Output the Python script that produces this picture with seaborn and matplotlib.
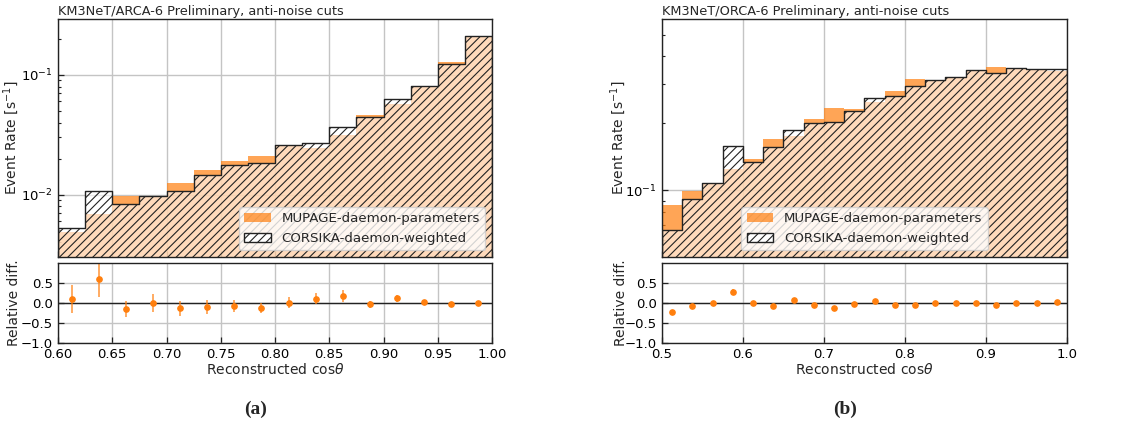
import numpy as np
import matplotlib.pyplot as plt
import seaborn as sns
from matplotlib.patches import Patch
from matplotlib.colors import to_rgba

# ARCA-6: 16 bins of reconstructed cos(theta) between 0.6 and 1.0
arca_edges = np.linspace(0.6, 1.0, 17)
arca_mupage = [0.00489, 0.00681, 0.0098, 0.0097, 0.01242, 0.01616, 0.0191, 0.02113,
               0.0259, 0.0243, 0.0316, 0.0462, 0.0573, 0.0800, 0.1276, 0.211]
arca_corsika = [0.00524, 0.0108, 0.0083, 0.00969, 0.01074, 0.01449, 0.01754, 0.01838,
                0.02596, 0.0270, 0.0369, 0.0447, 0.0635, 0.081, 0.1227, 0.2113]
arca_reldiff = [0.09, 0.61, -0.15, 0.0, -0.13, -0.10, -0.075, -0.12,
                0.01, 0.11, 0.175, -0.03, 0.12, 0.03, -0.02, 0.0]
arca_relerr = [0.35, 0.47, 0.21, 0.23, 0.19, 0.17, 0.15, 0.13,
               0.13, 0.13, 0.14, 0.09, 0.09, 0.05, 0.04, 0.03]

# ORCA-6: 20 bins between 0.5 and 1.0
orca_edges = np.linspace(0.5, 1.0, 21)
orca_mupage = [0.0862, 0.0997, 0.1083, 0.1249, 0.1379, 0.171, 0.175, 0.2098, 0.2333, 0.2309,
               0.249, 0.2784, 0.315, 0.312, 0.321, 0.345, 0.357, 0.352, 0.352, 0.3425]
orca_corsika = [0.0665, 0.0917, 0.1083, 0.159, 0.1347, 0.1574, 0.187, 0.1998, 0.2039, 0.2278,
                0.2588, 0.265, 0.294, 0.3143, 0.322, 0.346, 0.3366, 0.355, 0.35, 0.349]
orca_reldiff = [-0.23, -0.08, 0.0, 0.27, -0.01, -0.07, 0.075, -0.05, -0.12, -0.02,
                0.04, -0.04, -0.06, 0.01, 0.0, 0.0, -0.05, 0.01, 0.0, 0.03]
orca_relerr = [0.05, 0.05, 0.05, 0.08, 0.04, 0.04, 0.04, 0.035, 0.035, 0.03,
               0.03, 0.03, 0.03, 0.025, 0.025, 0.025, 0.025, 0.025, 0.025, 0.025]

sns.set_style("white")
plt.rcParams["font.family"] = ["DejaVu Sans"]
plt.rcParams["hatch.linewidth"] = 0.8

orange = to_rgba("tab:orange", 0.7)
white = (1, 1, 1, 0.6)
gridc = "#c4c4c4"
edgec = "#222222"

fig = plt.figure(figsize=(11.26, 4.26), dpi=100)


def style_ticks(a):
    a.tick_params(which="both", direction="in", left=True, bottom=True,
                  colors=edgec, labelcolor="black", labelsize=9.5)
    a.tick_params(which="major", length=4, width=0.9)
    a.tick_params(which="minor", length=2.5, width=0.8)


def draw_panel(left, width, edges, mupage, corsika, reldiff, relerr,
               title, ylim, legloc, xticks, letter, letter_x):
    centers = 0.5 * (edges[:-1] + edges[1:])
    bins = list(edges)
    ax = fig.add_axes([left, 0.3967, width, 0.5587])
    axr = fig.add_axes([left, 0.1948, width, 0.1878])

    sns.histplot(x=list(centers), weights=mupage, bins=bins, element="step", fill=True,
                 facecolor=orange, edgecolor="none", linewidth=0, ax=ax)
    sns.histplot(x=list(centers), weights=corsika, bins=bins, element="step", fill=True,
                 facecolor=white, edgecolor=edgec, linewidth=1.0, hatch="////", ax=ax)
    ax.set_yscale("log")
    ax.set_ylim(*ylim)
    ax.set_xlim(edges[0], edges[-1])
    ax.set_xticks(xticks)
    style_ticks(ax)
    ax.tick_params(labelbottom=False)
    ax.set_axisbelow(True)
    ax.grid(True, color=gridc, lw=1.0)
    ax.set_xlabel("")
    ax.set_ylabel("Event Rate [s$^{-1}$]", fontsize=10)
    ax.yaxis.set_label_coords(-0.085, 0.5)
    ax.set_title(title, loc="left", fontsize=9.3, pad=3)
    handles = [Patch(facecolor=orange, edgecolor="none", label="MUPAGE-daemon-parameters"),
               Patch(facecolor="white", edgecolor=edgec, hatch="////",
                     label="CORSIKA-daemon-weighted")]
    ax.legend(handles=handles, loc=legloc, fontsize=9.6)

    axr.errorbar(centers, reldiff, yerr=relerr, fmt="o", color="tab:orange", ms=3.8,
                 ecolor=to_rgba("tab:orange", 0.7), elinewidth=1.3, capsize=0)
    axr.axhline(0, color=edgec, lw=1.0, zorder=1)
    axr.set_xlim(edges[0], edges[-1])
    axr.set_ylim(-1, 1)
    axr.set_yticks([-1.0, -0.5, 0.0, 0.5])
    axr.set_xticks(xticks)
    axr.grid(True, color=gridc, lw=1.0)
    axr.set_axisbelow(True)
    style_ticks(axr)
    axr.set_xlabel(r"Reconstructed cos$\theta$", fontsize=10, labelpad=1)
    axr.set_ylabel("Relative diff.", fontsize=10)
    axr.yaxis.set_label_coords(-0.085, 0.5)
    for a in (ax, axr):
        for s in a.spines.values():
            s.set_color(edgec)
            s.set_linewidth(1.0)

    fig.text(letter_x, 0.04, letter, ha="center", va="center", fontsize=14,
             fontweight="bold", family="Liberation Serif")


draw_panel(0.0515, 0.3855, arca_edges, arca_mupage, arca_corsika, arca_reldiff, arca_relerr,
           "KM3NeT/ARCA-6 Preliminary, anti-noise cuts", (0.0030, 0.294), "lower right",
           np.arange(0.60, 1.001, 0.05), "(a)", 256 / 1126)
draw_panel(0.5879, 0.3597, orca_edges, orca_mupage, orca_corsika, orca_reldiff, orca_relerr,
           "KM3NeT/ORCA-6 Preliminary, anti-noise cuts", (0.0503, 0.588), "lower center",
           np.arange(0.5, 1.001, 0.1), "(b)", 845 / 1126)

plt.savefig("out.png", dpi=100)
